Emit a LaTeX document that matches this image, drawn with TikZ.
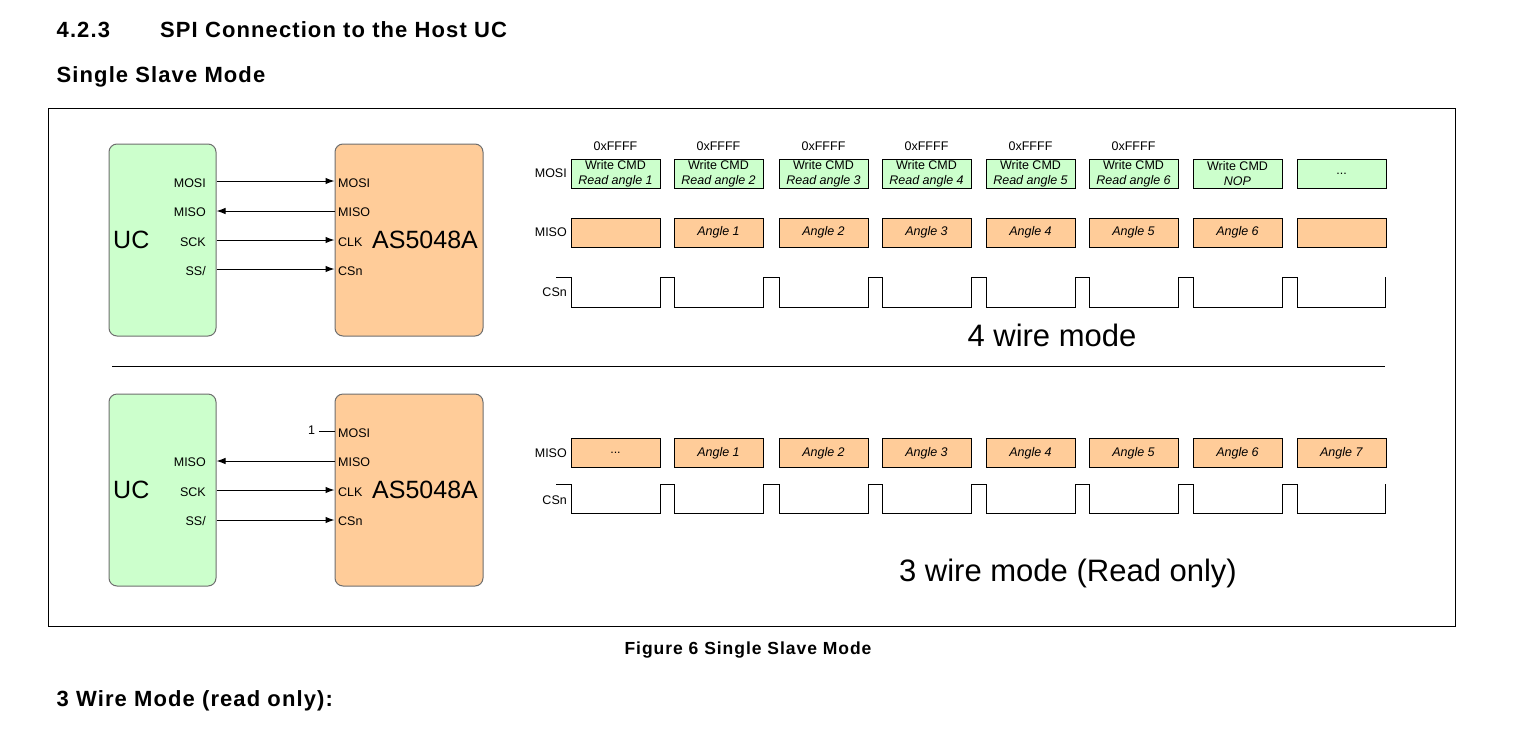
\documentclass[tikz,border=0pt]{standalone}
\usepackage{fontspec}
\setmainfont{Liberation Sans}
\newfontfamily\headfont[LetterSpace=5]{Liberation Sans}
\newfontfamily\capfont[LetterSpace=5.5]{Liberation Sans}
\usetikzlibrary{arrows.meta}
\definecolor{chipgreen}{RGB}{204,255,204}
\definecolor{chiporange}{RGB}{255,204,153}
\definecolor{chipborder}{RGB}{110,110,110}
\tikzset{
  chip/.style={draw=chipborder, line width=1pt, rounded corners=8pt, inner sep=0pt},
  pin/.style={inner sep=0pt, font=\fontsize{12.5}{14}\selectfont},
  big/.style={inner sep=0pt, font=\fontsize{25}{28}\selectfont},
  mode/.style={inner sep=0pt, font=\fontsize{31}{34}\selectfont},
  head/.style={inner sep=0pt, anchor=base west, font=\headfont\bfseries\fontsize{22}{24}\selectfont},
  capstyle/.style={inner sep=0pt, anchor=base, font=\capfont\bfseries\fontsize{17.5}{20}\selectfont},
  wire/.style={line width=1pt},
  sig/.style={line width=1pt, -{Latex[length=9pt,width=6.5pt]}},
  tbox/.style={draw=black, line width=1pt, minimum width=89pt, minimum height=29pt, inner sep=0pt, align=center, font=\fontsize{12.5}{15}\selectfont},
  mosibox/.style={tbox, fill=chipgreen},
  misobox/.style={tbox, fill=chiporange},
}
\begin{document}
\begin{tikzpicture}[x=1pt,y=-1pt]
\useasboundingbox (0,0) rectangle (1528,742);
% headings
\node[head] (h1) at (56.5,37.7) {4.2.3};
\node[head] (h2) at (160,37.7) {SPI Connection to the Host UC};
\node[head] (h3) at (56.5,82.5) {Single Slave Mode};
\node[capstyle] (cap) at (748,654) {Figure 6 Single Slave Mode};
\node[head] (h4) at (56.5,706) {3 Wire Mode (read only):};
% frame
\draw[line width=1pt] (48,108) rectangle (1455,626);
\coordinate (sepL) at (112,366);
\coordinate (sepR) at (1385,366);
\draw[line width=1pt] (sepL) -- (sepR);

% ===== top: 4 wire =====
\node[chip, fill=chipgreen, minimum width=107pt, minimum height=192pt] (uc1) at (162.5,240) {};
\node[chip, fill=chiporange, minimum width=148pt, minimum height=192pt] (as1) at (409,240) {};
\node[big, anchor=west] (uct1) at (113,240) {UC};
\node[big, anchor=west] (ast1) at (372,240) {AS5048A};
\node[pin, anchor=east] (um1) at (206,183) {MOSI};
\node[pin, anchor=east] (ui1) at (206,212) {MISO};
\node[pin, anchor=east] (uk1) at (206,242) {SCK};
\node[pin, anchor=east] (us1) at (206,271) {SS/};
\node[pin, anchor=west] (am1) at (338,183) {MOSI};
\node[pin, anchor=west] (ai1) at (338,212) {MISO};
\node[pin, anchor=west] (ak1) at (338,242) {CLK};
\node[pin, anchor=west] (as1p) at (338,271) {CSn};
\coordinate (y1a) at (0,181);
\coordinate (y1b) at (0,211);
\coordinate (y1c) at (0,240);
\coordinate (y1d) at (0,269);
\draw[sig] (uc1.east |- y1a) -- (as1.west |- y1a);
\draw[sig] (as1.west |- y1b) -- (uc1.east |- y1b);
\draw[sig] (uc1.east |- y1c) -- (as1.west |- y1c);
\draw[sig] (uc1.east |- y1d) -- (as1.west |- y1d);

% ===== bottom: 3 wire =====
\node[chip, fill=chipgreen, minimum width=107pt, minimum height=192pt] (uc2) at (162.5,490) {};
\node[chip, fill=chiporange, minimum width=148pt, minimum height=192pt] (as2) at (409,490) {};
\node[big, anchor=west] (uct2) at (113,490) {UC};
\node[big, anchor=west] (ast2) at (372,490) {AS5048A};
\node[pin, anchor=east] (ui2) at (206,462) {MISO};
\node[pin, anchor=east] (uk2) at (206,492) {SCK};
\node[pin, anchor=east] (us2) at (206,521) {SS/};
\node[pin, anchor=west] (am2) at (338,433) {MOSI};
\node[pin, anchor=west] (ai2) at (338,462) {MISO};
\node[pin, anchor=west] (ak2) at (338,492) {CLK};
\node[pin, anchor=west] (as2p) at (338,521) {CSn};
\node[pin] (one) at (311.5,430) {1};
\coordinate (y2a) at (0,431);
\coordinate (y2b) at (0,461);
\coordinate (y2c) at (0,490);
\coordinate (y2d) at (0,520);
\draw[wire] (one.east |- y2a) ++(4,0) -- (as2.west |- y2a);
\draw[sig] (as2.west |- y2b) -- (uc2.east |- y2b);
\draw[sig] (uc2.east |- y2c) -- (as2.west |- y2c);
\draw[sig] (uc2.east |- y2d) -- (as2.west |- y2d);

% ===== timing top =====
\node[pin, anchor=east] (lmosi) at (567,173) {MOSI};
\node[pin, anchor=east] (lmiso) at (567,232) {MISO};
\node[pin, anchor=east] (lcsn) at (567,292) {CSn};
\foreach \s [count=\i] in {571,674,779,882,986,1089} {
  \pgfmathsetmacro{\c}{\s+44.5}
  \node[pin] (hex\i) at (\c,146) {0xFFFF};
  \node[mosibox] (mo\i) at (\c,173.5) {Write CMD\\\textit{Read angle \i}};
}
\node[mosibox] (mo7) at (1237.5,173.5) {Write CMD\\\textit{NOP}};
\node[mosibox] (mo8) at (1341.5,173.5) {...};
\node[misobox] (mi0) at (615.5,232.5) {};
\foreach \s [count=\i] in {674,779,882,986,1089,1193} {
  \pgfmathsetmacro{\c}{\s+44.5}
  \node[misobox] (mi\i) at (\c,232.5) {\textit{Angle \i}};
}
\node[misobox] (mi7) at (1341.5,232.5) {};
\draw[line width=1pt] (556,277) -- (571,277) -- (571,307)
  \foreach \a/\b in {660/674,763/779,868/882,971/986,1075/1089,1178/1193,1282/1297} {
    -- (\a,307) -- (\a,277) -- (\b,277) -- (\b,307) }
  -- (1385,307) -- (1385,277);
\node[mode] (m4) at (1052,335) {4 wire mode};

% ===== timing bottom =====
\node[pin, anchor=east] (lmiso2) at (567,453) {MISO};
\node[pin, anchor=east] (lcsn2) at (567,500) {CSn};
\node[misobox] (mj0) at (615.5,453) {...};
\foreach \s [count=\i] in {674,779,882,986,1089,1193,1297} {
  \pgfmathsetmacro{\c}{\s+44.5}
  \node[misobox] (mj\i) at (\c,453) {\textit{Angle \i}};
}
\draw[line width=1pt] (556,484) -- (571,484) -- (571,513)
  \foreach \a/\b in {660/674,763/779,868/882,971/986,1075/1089,1178/1193,1282/1297} {
    -- (\a,513) -- (\a,484) -- (\b,484) -- (\b,513) }
  -- (1385,513) -- (1385,484);
\node[mode] (m3) at (1068,573) {3 wire mode (Read only)};
\end{tikzpicture}
\end{document}
